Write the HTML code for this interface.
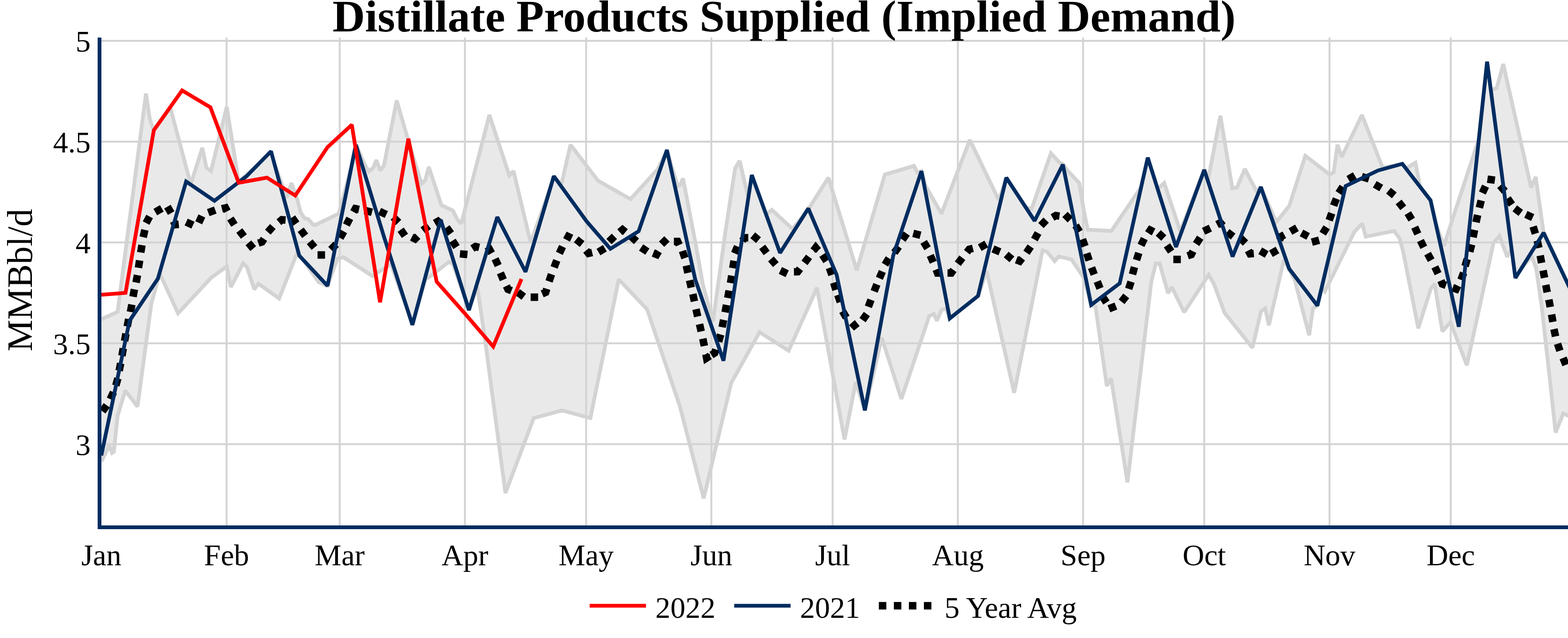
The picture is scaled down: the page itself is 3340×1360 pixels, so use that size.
<!DOCTYPE html>
<html><head><meta charset="utf-8"><title>Distillate Products Supplied (Implied Demand)</title>
<style>html,body{margin:0;padding:0;background:#fff;}body{width:3340px;height:1360px;overflow:hidden;}svg{display:block;font-family:"Liberation Serif","DejaVu Serif",serif;}</style></head><body>
<svg width="3340" height="1360" viewBox="0 0 3340 1360">
<rect width="3340" height="1360" fill="#fff"/>
<defs><clipPath id="c"><rect x="216" y="80" width="3124" height="1040"/></clipPath></defs>
<g stroke="#d3d3d3" stroke-width="4"><line x1="482.6" y1="80" x2="482.6" y2="1120"/><line x1="723.6" y1="80" x2="723.6" y2="1120"/><line x1="990.3" y1="80" x2="990.3" y2="1120"/><line x1="1248.5" y1="80" x2="1248.5" y2="1120"/><line x1="1515.3" y1="80" x2="1515.3" y2="1120"/><line x1="1773.5" y1="80" x2="1773.5" y2="1120"/><line x1="2040.3" y1="80" x2="2040.3" y2="1120"/><line x1="2307.1" y1="80" x2="2307.1" y2="1120"/><line x1="2565.2" y1="80" x2="2565.2" y2="1120"/><line x1="2832.0" y1="80" x2="2832.0" y2="1120"/><line x1="3090.2" y1="80" x2="3090.2" y2="1120"/><line x1="216" y1="946.7" x2="3340" y2="946.7"/><line x1="216" y1="731.7" x2="3340" y2="731.7"/><line x1="216" y1="516.8" x2="3340" y2="516.8"/><line x1="216" y1="301.9" x2="3340" y2="301.9"/><line x1="216" y1="86.9" x2="3340" y2="86.9"/></g>
<g clip-path="url(#c)" fill="none" stroke-linejoin="miter" stroke-miterlimit="2">
<polygon points="216.0,984.0 232.6,949.8 238.5,965.5 242.5,963.0 250.5,886.3 266.8,832.5 292.9,866.7 322.3,647.7 340.2,582.6 379.3,668.0 449.5,592.3 483.0,567.9 491.8,611.9 517.9,561.4 526.1,569.5 541.7,616.8 550.5,604.7 594.6,636.3 633.7,536.9 636.0,540.2 637.5,545.1 645.5,553.7 679.0,601.5 697.7,609.5 718.5,551.6 731.5,548.3 793.5,588.4 832.6,563.0 870.0,666.4 878.5,692.5 885.5,666.4 906.0,596.0 923.0,584.0 956.5,558.1 964.7,563.0 994.0,645.4 998.9,661.2 1003.0,648.0 1016.6,611.0 1032.6,720.0 1076.6,1050.9 1137.0,891.1 1197.3,874.8 1257.6,891.1 1317.9,595.6 1378.3,659.2 1448.4,866.7 1498.9,1062.3 1557.6,816.2 1617.9,708.1 1679.9,747.7 1740.2,613.5 1798.9,936.8 1822.8,814.5 1842.4,874.8 1878.3,720.0 1920.0,850.4 1979.3,673.8 1989.1,668.9 1995.7,683.6 2005.4,660.8 2015.2,657.5 2023.0,678.7 2083.7,630.8 2101.6,577.7 2160.3,837.4 2220.7,533.7 2230.4,536.9 2246.7,556.5 2254.9,546.7 2282.6,553.2 2308.7,592.3 2324.2,650.5 2333.5,653.5 2357.6,822.7 2366.7,806.4 2401.6,1028.1 2452.2,602.1 2462.0,561.4 2470.1,561.4 2488.0,624.9 2496.2,611.9 2522.3,665.6 2574.5,585.8 2585.9,605.4 2608.7,667.3 2667.9,741.2 2685.9,664.0 2695.0,657.5 2702.8,693.4 2734.8,553.2 2757.6,595.6 2788.6,714.6 2796.7,657.5 2806.2,651.5 2816.0,612.0 2822.3,621.0 2884.8,494.5 2901.7,476.6 2909.2,504.3 2969.6,492.3 2981.0,507.6 2989.1,536.9 3021.1,699.9 3047.8,615.1 3056.0,605.4 3072.3,706.4 3089.6,686.9 3124.5,778.7 3181.5,517.4 3193.9,503.0 3210.5,547.6 3218.5,533.0 3220.5,537.0 3221.0,539.8 3227.9,592.6 3240.0,573.2 3262.5,546.0 3272.0,571.0 3283.6,650.0 3301.5,810.0 3313.6,922.1 3329.9,881.4 3345.5,888.5 3345.5,617.7 3288.0,496.3 3271.2,377.1 3261.4,399.9 3202.1,136.5 3188.2,187.5 3176.0,192.8 3175.5,191.5 3167.6,131.5 3150.0,296.6 3075.5,523.9 3058.0,475.2 3047.2,427.0 3026.5,400.2 3024.5,396.0 3015.0,347.0 2996.0,358.5 2989.5,352.3 2987.1,349.2 2981.5,350.7 2945.1,357.5 2901.1,245.1 2858.0,334.7 2848.9,308.6 2840.8,367.3 2832.6,372.2 2780.4,332.1 2746.2,439.1 2718.5,473.3 2685.7,398.6 2678.0,410.5 2651.6,360.1 2634.8,399.9 2625.0,401.5 2599.6,246.7 2573.2,384.0 2565.3,361.1 2514.1,492.9 2479.9,390.1 2466.0,402.5 2445.0,336.0 2430.5,399.2 2367.4,492.3 2316.8,489.6 2308.7,448.9 2298.9,390.1 2274.5,364.0 2263.7,349.4 2256.5,346.1 2238.6,326.6 2197.5,445.0 2191.0,443.5 2187.5,445.2 2187.0,445.1 2143.5,378.7 2142.5,382.9 2127.5,426.5 2065.8,298.2 2005.4,455.4 1971.7,396.6 1962.8,364.7 1954.6,368.1 1946.7,353.6 1884.8,372.2 1825.0,576.0 1764.7,378.7 1722.5,444.9 1721.8,444.3 1716.5,452.6 1688.0,488.0 1644.0,447.3 1632.6,457.0 1631.5,456.2 1601.4,373.2 1594.0,421.6 1575.5,342.9 1565.8,359.2 1545.8,489.6 1518.6,685.7 1497.2,606.3 1481.0,515.5 1454.9,380.3 1448.4,395.0 1443.5,396.6 1422.5,327.7 1420.6,319.7 1418.0,327.0 1401.1,360.8 1343.0,424.4 1273.9,385.2 1215.2,308.6 1195.7,393.4 1182.5,379.4 1179.7,375.5 1173.5,396.3 1130.4,517.4 1093.9,364.7 1084.8,373.8 1042.4,245.1 982.6,476.6 974.5,468.5 964.7,448.9 940.2,437.5 913.5,355.9 906.0,383.6 897.8,391.8 868.5,295.6 845.0,214.1 817.9,352.6 809.8,364.0 801.6,341.2 795.1,357.5 785.3,365.7 773.9,344.5 760.2,311.9 759.5,313.6 758.0,308.6 748.5,355.6 721.7,455.4 671.2,479.9 666.3,478.2 656.5,466.8 648.4,465.2 640.2,452.2 633.7,426.1 620.7,390.1 610.9,421.1 585.0,350.9 577.3,322.5 545.5,354.9 508.2,386.9 483.0,227.8 449.5,364.7 439.7,357.5 430.9,315.1 406.3,393.0 363.0,230.4 327.0,276.5 319.0,253.2 310.9,199.4 250.5,664.7 216.0,680.3" fill="#d3d3d3" fill-opacity="0.5" stroke="none"/>
<polyline points="216.0,984.0 232.6,949.8 238.5,965.5 242.5,963.0 250.5,886.3 266.8,832.5 292.9,866.7 322.3,647.7 340.2,582.6 379.3,668.0 449.5,592.3 483.0,567.9 491.8,611.9 517.9,561.4 526.1,569.5 541.7,616.8 550.5,604.7 594.6,636.3 633.7,536.9 636.0,540.2 637.5,545.1 645.5,553.7 679.0,601.5 697.7,609.5 718.5,551.6 731.5,548.3 793.5,588.4 832.6,563.0 870.0,666.4 878.5,692.5 885.5,666.4 906.0,596.0 923.0,584.0 956.5,558.1 964.7,563.0 994.0,645.4 998.9,661.2 1003.0,648.0 1016.6,611.0 1032.6,720.0 1076.6,1050.9 1137.0,891.1 1197.3,874.8 1257.6,891.1 1317.9,595.6 1378.3,659.2 1448.4,866.7 1498.9,1062.3 1557.6,816.2 1617.9,708.1 1679.9,747.7 1740.2,613.5 1798.9,936.8 1822.8,814.5 1842.4,874.8 1878.3,720.0 1920.0,850.4 1979.3,673.8 1989.1,668.9 1995.7,683.6 2005.4,660.8 2015.2,657.5 2023.0,678.7 2083.7,630.8 2101.6,577.7 2160.3,837.4 2220.7,533.7 2230.4,536.9 2246.7,556.5 2254.9,546.7 2282.6,553.2 2308.7,592.3 2324.2,650.5 2333.5,653.5 2357.6,822.7 2366.7,806.4 2401.6,1028.1 2452.2,602.1 2462.0,561.4 2470.1,561.4 2488.0,624.9 2496.2,611.9 2522.3,665.6 2574.5,585.8 2585.9,605.4 2608.7,667.3 2667.9,741.2 2685.9,664.0 2695.0,657.5 2702.8,693.4 2734.8,553.2 2757.6,595.6 2788.6,714.6 2796.7,657.5 2806.2,651.5 2816.0,612.0 2822.3,621.0 2884.8,494.5 2901.7,476.6 2909.2,504.3 2969.6,492.3 2981.0,507.6 2989.1,536.9 3021.1,699.9 3047.8,615.1 3056.0,605.4 3072.3,706.4 3089.6,686.9 3124.5,778.7 3181.5,517.4 3193.9,503.0 3210.5,547.6 3218.5,533.0 3220.5,537.0 3221.0,539.8 3227.9,592.6 3240.0,573.2 3262.5,546.0 3272.0,571.0 3283.6,650.0 3301.5,810.0 3313.6,922.1 3329.9,881.4 3345.5,888.5" stroke="#d3d3d3" stroke-width="8"/>
<polyline points="216.0,680.3 250.5,664.7 310.9,199.4 319.0,253.2 327.0,276.5 363.0,230.4 406.3,393.0 430.9,315.1 439.7,357.5 449.5,364.7 483.0,227.8 508.2,386.9 545.5,354.9 577.3,322.5 585.0,350.9 610.9,421.1 620.7,390.1 633.7,426.1 640.2,452.2 648.4,465.2 656.5,466.8 666.3,478.2 671.2,479.9 721.7,455.4 748.5,355.6 758.0,308.6 759.5,313.6 760.2,311.9 773.9,344.5 785.3,365.7 795.1,357.5 801.6,341.2 809.8,364.0 817.9,352.6 845.0,214.1 868.5,295.6 897.8,391.8 906.0,383.6 913.5,355.9 940.2,437.5 964.7,448.9 974.5,468.5 982.6,476.6 1042.4,245.1 1084.8,373.8 1093.9,364.7 1130.4,517.4 1173.5,396.3 1179.7,375.5 1182.5,379.4 1195.7,393.4 1215.2,308.6 1273.9,385.2 1343.0,424.4 1401.1,360.8 1418.0,327.0 1420.6,319.7 1422.5,327.7 1443.5,396.6 1448.4,395.0 1454.9,380.3 1481.0,515.5 1497.2,606.3 1518.6,685.7 1545.8,489.6 1565.8,359.2 1575.5,342.9 1594.0,421.6 1601.4,373.2 1631.5,456.2 1632.6,457.0 1644.0,447.3 1688.0,488.0 1716.5,452.6 1721.8,444.3 1722.5,444.9 1764.7,378.7 1825.0,576.0 1884.8,372.2 1946.7,353.6 1954.6,368.1 1962.8,364.7 1971.7,396.6 2005.4,455.4 2065.8,298.2 2127.5,426.5 2142.5,382.9 2143.5,378.7 2187.0,445.1 2187.5,445.2 2191.0,443.5 2197.5,445.0 2238.6,326.6 2256.5,346.1 2263.7,349.4 2274.5,364.0 2298.9,390.1 2308.7,448.9 2316.8,489.6 2367.4,492.3 2430.5,399.2 2445.0,336.0 2466.0,402.5 2479.9,390.1 2514.1,492.9 2565.3,361.1 2573.2,384.0 2599.6,246.7 2625.0,401.5 2634.8,399.9 2651.6,360.1 2678.0,410.5 2685.7,398.6 2718.5,473.3 2746.2,439.1 2780.4,332.1 2832.6,372.2 2840.8,367.3 2848.9,308.6 2858.0,334.7 2901.1,245.1 2945.1,357.5 2981.5,350.7 2987.1,349.2 2989.5,352.3 2996.0,358.5 3015.0,347.0 3024.5,396.0 3026.5,400.2 3047.2,427.0 3058.0,475.2 3075.5,523.9 3150.0,296.6 3167.6,131.5 3175.5,191.5 3176.0,192.8 3188.2,187.5 3202.1,136.5 3261.4,399.9 3271.2,377.1 3288.0,496.3 3345.5,617.7" stroke="#d3d3d3" stroke-width="8"/>
<path d="M218.2,876.9L227.4,863.8M234.9,850.8L241.7,836.2M246.7,821.9L251.1,806.5M253.9,790.2L256.9,774.5M259.7,758.5L262.6,742.7M265.4,727.0L268.3,711.3M271.0,696.0L274.1,680.3M277.9,665.1L280.9,649.3M283.3,632.5L286.3,616.7M289.8,602.3L292.8,586.6M295.0,570.9L297.4,555.1M299.8,538.3L302.4,522.5M305.0,505.6L308.6,490.0M311.2,475.5L318.7,461.4M330.8,452.1L344.7,444.1M353.7,451.3L367.5,443.3M370.0,471.6L372.8,479.1L380.8,478.4M396.6,473.2L411.1,480.0M419.4,464.3L433.9,471.0M443.6,453.3L458.6,447.8M472.7,445.1L480.4,443.2L484.0,450.3M490.8,465.8L499.4,479.3M509.8,491.4L519.5,504.2M529.1,517.7L539.4,530.0M550.3,518.3L557.9,515.7L562.3,509.1M570.5,494.8L581.2,482.9M594.1,473.6L600.3,468.5L608.3,469.0M620.0,474.7L633.1,465.5M640.5,489.8L650.1,502.6M659.7,515.3L669.9,527.6M676.4,543.4L692.4,543.4M704.8,531.9L716.2,520.7M724.4,507.2L732.4,493.3M737.8,479.6L745.1,465.4M753.1,451.8L757.0,444.8L764.8,446.4M776.9,448.5L792.4,452.6M808.4,450.4L822.9,457.2M837.7,462.8L849.0,474.1M853.5,489.6L862.6,502.7M877.0,505.6L884.1,509.2L889.8,503.5M900.6,491.2L913.3,481.6M926.1,475.6L933.0,471.7L939.1,476.9M951.1,484.8L960.6,497.7M963.8,513.0L972.4,526.6M979.7,541.1L995.6,542.5M1006.2,529.8L1012.9,525.5L1020.7,527.4M1039.3,525.8L1047.3,539.7M1054.6,551.6L1061.3,566.1M1065.9,581.6L1072.1,596.4M1078.7,609.5L1082.1,616.7L1089.5,619.7M1102.9,623.0L1115.7,632.6M1130.3,633.5L1146.3,633.5M1154.9,626.4L1162.3,623.2L1164.7,615.6M1169.5,599.8L1174.7,584.7M1180.3,570.0L1186.0,555.1M1191.5,540.0L1198.3,525.5M1206.6,511.3L1210.4,504.2L1217.6,507.7M1227.4,510.3L1240.0,520.3M1248.6,533.8L1253.6,540.1L1261.4,538.2M1274.8,537.3L1288.5,529.1M1297.3,515.0L1308.7,503.8M1320.1,494.8L1326.1,489.6L1332.3,494.7M1343.9,503.7L1355.7,514.5M1365.6,527.5L1378.9,536.4M1391.3,539.6L1398.7,542.5L1402.8,535.6M1409.3,520.5L1420.7,509.2M1435.5,514.8L1443.5,514.8L1446.9,522.1M1453.7,535.0L1458.9,550.1M1461.9,566.2L1465.4,581.8M1468.9,597.5L1472.4,613.1M1475.8,626.8L1479.2,642.4M1482.6,659.1L1486.1,674.7M1490.1,690.9L1493.6,706.5M1497.1,721.8L1500.3,737.5M1503.7,755.2L1505.2,763.1L1512.0,758.8M1515.5,756.7L1522.3,752.5L1524.9,744.9M1530.8,728.4L1535.1,713.0M1538.2,697.5L1541.4,681.9M1544.5,665.8L1547.5,650.1M1550.2,635.2L1553.1,619.4M1556.1,603.4L1558.7,587.6M1560.9,571.6L1563.6,555.8M1564.9,540.1L1571.0,525.4M1581.4,513.3L1585.9,506.7L1593.9,506.7M1603.4,501.5L1615.7,511.8M1623.6,526.3L1633.1,539.2M1642.1,552.0L1652.7,564.0M1662.3,576.6L1676.8,583.4M1691.2,579.4L1699.2,579.2L1704.1,572.8M1713.7,560.4L1723.3,547.5M1732.8,534.3L1737.6,527.9L1742.7,534.0M1752.0,543.1L1760.6,556.6M1766.6,570.9L1772.1,585.9M1775.9,602.5L1780.7,617.8M1784.7,628.7L1789.9,643.8M1794.7,663.2L1802.7,677.1M1814.5,687.8L1819.9,693.8L1826.1,688.7M1837.3,682.4L1846.5,669.3M1849.7,654.0L1855.3,639.0M1862.0,621.1L1867.8,606.2M1873.1,593.3L1879.5,578.6M1885.1,564.2L1893.6,550.6M1905.1,538.7L1914.4,525.6M1922.3,511.0L1931.4,497.9M1945.2,497.5L1960.7,501.6M1967.5,515.6L1975.9,529.2M1981.6,544.4L1987.9,559.1M1994.0,574.5L1997.0,581.9L2005.0,581.9M2018.3,581.9L2026.3,581.9L2031.0,575.4M2040.2,562.2L2049.9,549.4M2059.6,537.6L2064.6,531.3L2072.4,529.4M2087.0,528.0L2100.9,520.0M2115.1,530.7L2129.9,536.9M2143.3,542.5L2155.5,552.8M2164.8,553.7L2172.2,556.6L2177.1,550.3M2186.5,538.8L2195.4,525.5M2203.4,510.6L2211.2,496.6M2217.3,480.8L2228.4,469.3M2242.0,463.6L2248.9,459.6L2256.8,460.6M2268.5,457.2L2279.8,468.5M2291.1,480.5L2299.6,494.0M2305.7,509.9L2311.2,524.9M2314.9,540.0L2319.9,555.2M2325.1,570.3L2330.8,585.2M2337.2,599.9L2343.2,614.7M2348.1,631.5L2356.8,644.9M2362.1,658.3L2377.0,652.4M2389.1,643.2L2399.0,630.7M2404.2,615.7L2409.3,600.5M2412.3,584.8L2416.5,569.4M2420.9,554.4L2425.8,539.1M2430.5,523.0L2437.5,508.6M2445.9,497.2L2450.3,490.5L2457.4,494.1M2467.2,496.5L2479.0,507.3M2485.7,523.0L2494.7,536.3M2499.3,553.0L2515.3,553.0M2529.9,545.3L2537.5,542.7L2541.1,535.5M2547.9,520.1L2556.5,506.6M2563.7,493.1L2578.2,486.3M2592.3,478.7L2599.5,475.0L2604.7,481.1M2614.0,494.5L2626.7,504.3M2641.5,506.9L2653.1,518.0M2659.0,534.0L2662.8,541.0L2670.7,540.3M2684.4,534.5L2698.2,542.5M2707.2,540.9L2721.1,532.9M2725.5,511.6L2728.8,504.3L2735.8,500.5M2748.8,493.6L2762.6,485.6M2772.3,496.5L2786.4,504.0M2794.4,516.2L2809.9,512.0M2817.5,498.1L2825.9,484.5M2831.2,469.5L2836.7,454.4M2840.8,438.4L2846.7,423.5M2851.6,411.6L2860.3,398.2M2872.1,382.1L2885.9,374.1M2900.7,376.5L2916.0,381.3M2928.4,392.8L2942.2,400.9M2957.6,406.4L2970.0,416.5M2979.2,430.5L2989.1,443.0M2998.8,454.4L3007.1,468.1M3013.5,484.1L3020.1,498.7M3025.7,512.8L3032.8,527.1M3040.9,540.6L3048.6,554.7M3056.4,568.9L3063.3,583.4M3069.3,598.1L3072.4,605.5L3080.0,608.2M3094.3,613.4L3101.8,616.1L3105.3,608.9M3112.0,596.7L3117.7,581.7M3120.7,567.5L3125.3,552.2M3130.7,536.6L3134.8,521.2M3137.7,505.8L3140.9,490.1M3144.1,473.9L3147.5,458.3M3151.2,442.9L3155.1,427.4M3157.6,411.4L3164.4,396.9M3175.2,390.9L3177.4,375.1M3195.2,395.6L3205.6,407.8M3211.3,422.9L3220.5,436.0M3226.6,444.2L3239.4,453.8M3250.2,457.0L3264.8,463.8M3265.7,482.9L3270.5,498.2M3274.5,513.0L3278.0,528.5M3280.8,544.7L3283.8,560.4M3287.0,576.5L3290.0,592.2M3292.6,607.4L3295.7,623.1M3299.2,638.7L3302.2,654.4M3305.0,670.4L3307.8,686.2M3310.1,701.5L3313.5,717.1M3317.7,732.7L3322.8,747.8M3329.5,763.0L3335.5,777.8" stroke="#000" stroke-width="16" stroke-linejoin="miter" stroke-miterlimit="4"/>
<polyline points="215.8,971.0 276.0,683.7 336.3,594.0 396.5,386.9 456.8,428.0 524.8,376.0 577.3,322.5 637.5,545.1 697.7,609.3 758.0,308.6 818.2,505.6 878.5,692.5 938.7,468.5 998.9,661.2 1059.2,462.6 1119.4,579.5 1179.7,375.5 1249.4,471.7 1300.2,530.4 1360.4,492.9 1420.6,319.7 1480.9,595.6 1541.1,769.0 1601.4,373.2 1661.6,539.2 1721.8,444.3 1782.1,585.8 1842.3,874.8 1902.6,545.0 1962.8,364.7 2023.1,678.7 2083.3,630.8 2143.5,378.7 2203.8,470.7 2264.0,350.7 2324.3,650.0 2385.1,604.0 2444.8,336.0 2505.0,526.5 2565.2,362.0 2625.5,547.0 2685.7,398.6 2746.0,572.8 2806.2,651.5 2866.4,396.6 2935.3,363.4 2987.1,349.2 3047.2,427.0 3107.4,696.5 3167.7,131.5 3227.9,592.6 3288.1,496.1 3348.4,623.8" stroke="#002c60" stroke-width="8"/>
<polyline points="215.8,628.3 267.4,624.3 327.7,277.7 387.9,192.8 448.2,228.8 508.4,389.5 568.6,378.7 628.9,416.9 697.6,313.8 749.4,266.0 809.6,644.3 869.9,295.6 930.1,600.5 990.3,668.4 1050.6,738.8 1110.8,594.6" stroke="#ff0000" stroke-width="8"/>
</g>
<rect x="208" y="80" width="8" height="1048" fill="#002c60"/>
<rect x="208" y="1120" width="3132" height="8" fill="#002c60"/>
<text x="1670" y="67" text-anchor="middle" font-weight="bold" font-size="96" fill="#000">Distillate Products Supplied (Implied Demand)</text>
<g font-size="64" fill="#000" text-anchor="end">
<text x="193" y="110.2">5</text>
<text x="193" y="325.2">4.5</text>
<text x="193" y="540.1">4</text>
<text x="193" y="755.0">3.5</text>
<text x="193" y="970.0">3</text>
</g>
<g font-size="64" fill="#000" text-anchor="middle">
<text x="215.8" y="1204.6">Jan</text>
<text x="482.6" y="1204.6">Feb</text>
<text x="723.6" y="1204.6">Mar</text>
<text x="990.3" y="1204.6">Apr</text>
<text x="1248.5" y="1204.6">May</text>
<text x="1515.3" y="1204.6">Jun</text>
<text x="1773.5" y="1204.6">Jul</text>
<text x="2040.3" y="1204.6">Aug</text>
<text x="2307.1" y="1204.6">Sep</text>
<text x="2565.2" y="1204.6">Oct</text>
<text x="2832.0" y="1204.6">Nov</text>
<text x="3090.2" y="1204.6">Dec</text>
</g>
<text transform="translate(68,597) rotate(-90)" text-anchor="middle" font-size="76" fill="#000">MMBbl/d</text>
<g font-size="64" fill="#000">
<line x1="1256" y1="1291.3" x2="1376" y2="1291.3" stroke="#ff0000" stroke-width="8"/><text x="1396" y="1317.3">2022</text>
<line x1="1564" y1="1291.3" x2="1684" y2="1291.3" stroke="#002c60" stroke-width="8"/><text x="1704" y="1317.3">2021</text>
<line x1="1872" y1="1291.3" x2="1992" y2="1291.3" stroke="#000" stroke-width="16" stroke-dasharray="16 16"/><text x="2012" y="1317.3">5 Year Avg</text>
</g>
</svg></body></html>
